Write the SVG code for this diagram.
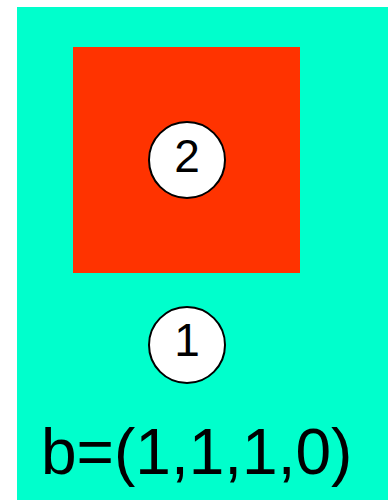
<svg xmlns="http://www.w3.org/2000/svg" width="388" height="501" viewBox="0 0 388 501">
<style>
.node circle{fill:#fff;stroke:#000;stroke-width:2}
.lbl{font-family:"Liberation Sans",Arial,sans-serif;font-size:46px;text-anchor:middle;fill:#000}
</style>
<rect id="bg" x="17" y="7" width="371" height="493" fill="#00FFCC"/>
<rect id="square" x="73" y="47" width="227" height="226" fill="#FF3300"/>
<g id="connectors"></g>
<g id="node2" class="node"><circle cx="187" cy="160" r="38"/><text class="lbl" x="187" y="172">2</text></g>
<g id="node1" class="node"><circle cx="187" cy="345" r="38"/><text class="lbl" x="187" y="356">1</text></g>
<text x="41" y="474" font-family="Liberation Sans,Arial,sans-serif" font-size="64" fill="#000">b=(1,1,1,0)</text>
</svg>
